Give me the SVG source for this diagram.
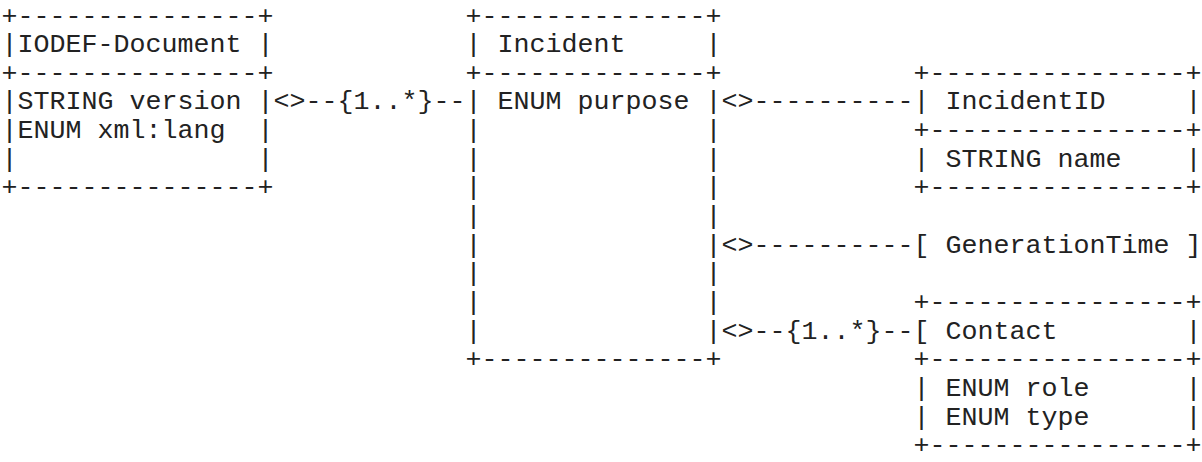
<svg xmlns="http://www.w3.org/2000/svg" width="1202" height="462" viewBox="0 0 1202 462" xml:space="preserve">
<style>
text { font-family: "Liberation Mono", "DejaVu Sans Mono", monospace; font-size: 26.667px; fill: #222; white-space: pre; }
</style>
<rect width="1202" height="462" fill="#ffffff"/>
<g id="node-iodef-document">
<text x="1.5" y="23.5">+---------------+</text>
<text x="1.5" y="52.15">|IODEF-Document |</text>
<text x="1.5" y="80.8">+---------------+</text>
<text x="1.5" y="109.45">|STRING version |</text>
<text x="1.5" y="138.1">|ENUM xml:lang  |</text>
<text x="1.5" y="166.75">|               |</text>
<text x="1.5" y="195.4">+---------------+</text>
</g>
<g id="node-incident">
<text x="465.5" y="23.5">+--------------+</text>
<text x="465.5" y="52.15">| Incident     |</text>
<text x="465.5" y="80.8">+--------------+</text>
<text x="465.5" y="109.45">| ENUM purpose |</text>
<text x="465.5" y="138.1">|              |</text>
<text x="465.5" y="166.75">|              |</text>
<text x="465.5" y="195.4">|              |</text>
<text x="465.5" y="224.05">|              |</text>
<text x="465.5" y="252.7">|              |</text>
<text x="465.5" y="281.35">|              |</text>
<text x="465.5" y="310.0">|              |</text>
<text x="465.5" y="338.65">|              |</text>
<text x="465.5" y="367.3">+--------------+</text>
</g>
<g id="node-incidentid">
<text x="913.5" y="80.8">+----------------+</text>
<text x="913.5" y="109.45">| IncidentID     |</text>
<text x="913.5" y="138.1">+----------------+</text>
<text x="913.5" y="166.75">| STRING name    |</text>
<text x="913.5" y="195.4">+----------------+</text>
</g>
<g id="node-generationtime">
<text x="913.5" y="252.7">[ GenerationTime ]</text>
</g>
<g id="node-contact">
<text x="913.5" y="310.0">+----------------+</text>
<text x="913.5" y="338.65">[ Contact        |</text>
<text x="913.5" y="367.3">+----------------+</text>
<text x="913.5" y="395.95">| ENUM role      |</text>
<text x="913.5" y="424.6">| ENUM type      |</text>
<text x="913.5" y="453.25">+----------------+</text>
</g>
<g id="connectors">
<text x="273.5" y="109.45">&lt;&gt;--{1..*}--</text>
<text x="721.5" y="109.45">&lt;&gt;----------</text>
<text x="721.5" y="252.7">&lt;&gt;----------</text>
<text x="721.5" y="338.65">&lt;&gt;--{1..*}--</text>
</g>
</svg>
